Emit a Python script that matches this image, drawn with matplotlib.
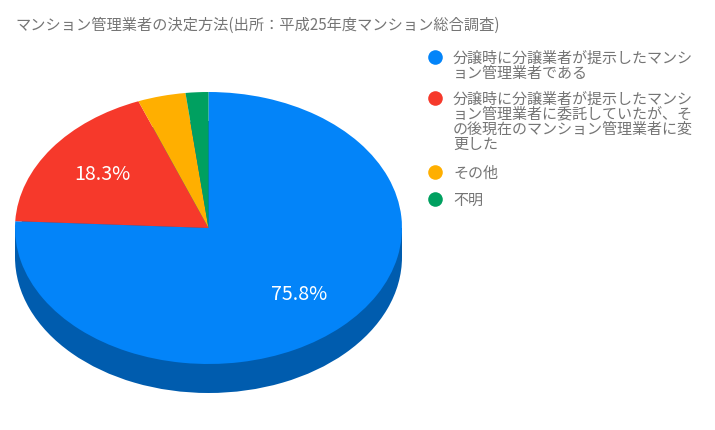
import matplotlib
matplotlib.use("Agg")
import matplotlib.pyplot as plt

plt.rcParams['font.family'] = ['Noto Sans CJK JP', 'DejaVu Sans']

title = "マンション管理業者の決定方法(出所：平成25年度マンション総合調査)"
categories = [
    "分譲時に分譲業者が提示したマンシ\nョン管理業者である",
    "分譲時に分譲業者が提示したマンシ\nョン管理業者に委託していたが、そ\nの後現在のマンション管理業者に変\n更した",
    "その他",
    "不明",
]
values = [75.8, 18.3, 4.0, 1.9]
labels = ["75.8%", "18.3%", "", ""]
colors = ["#0384F9", "#F6392B", "#FFAF00", "#00A060"]
side_color = "#005CAE"

W, H = 715, 430
fig = plt.figure(figsize=(W / 100, H / 100), dpi=100, facecolor="white")

# Pie axes: unit radius maps to 193.5 x 136 px, centred on (208.5, 228)
cx, cy, rx, ry = 208.5, 228, 193.5, 136
depth = 29 / ry
ext = 1.25
ax = fig.add_axes([(cx - rx * ext) / W, 1 - (cy + ry * ext) / H,
                   2 * rx * ext / W, 2 * ry * ext / H])
ax.patch.set_alpha(0)
ax.pie([1], colors=[side_color], radius=1, center=(0, -depth), startangle=90)
ax.bar(0, depth, width=2, bottom=-depth, color=side_color, linewidth=0)
ax.pie(values, colors=colors, radius=1, startangle=90, counterclock=False,
       wedgeprops=dict(linewidth=0))
ax.set_aspect("auto")
ax.set_xlim(-ext, ext)
ax.set_ylim(-ext, ext)
ax.axis("off")

# Overlay in pixel coordinates for texts and legend
ov = fig.add_axes([0, 0, 1, 1])
ov.set_xlim(0, W)
ov.set_ylim(H, 0)
ov.axis("off")

grey = "#757575"
ov.text(15, 25, title, fontsize=10.95, color=grey, va="center", ha="left")

ov.text(299.5, 294, labels[0], fontsize=14.2, color="white", va="center", ha="center")
ov.text(102.5, 174, labels[1], fontsize=14.2, color="white", va="center", ha="center")

starts = [57.5, 98, 172, 199]
for cat, col, y0 in zip(categories, colors, starts):
    ov.plot([435], [y0 - 0.5], "o", ms=10.5, color=col, mec="none")
    ov.text(453, y0 - 7.5, cat, fontsize=10.85, color=grey, va="top", ha="left",
            linespacing=0.845)

fig.savefig("out.png", dpi=100, facecolor="white")
